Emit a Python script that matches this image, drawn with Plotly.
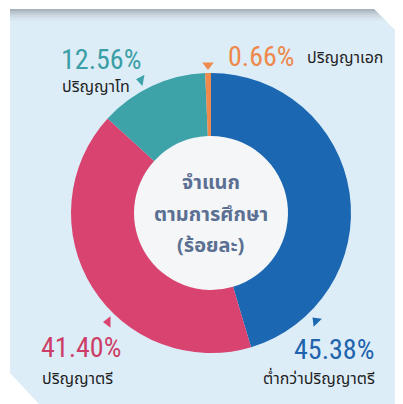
import plotly.graph_objects as go

# ---- data ----
categories = ["ต่ำกว่าปริญญาตรี", "ปริญญาตรี", "ปริญญาโท", "ปริญญาเอก"]
values = [45.38, 41.40, 12.56, 0.66]
colors = ["#1b67b2", "#d8446f", "#3ea2a9", "#f08a4c"]
label_colors = ["#1f63ad", "#cd3e67", "#3a9ea6", "#ee884d"]
center_title = ["จำแนก", "ตามการศึกษา", "(ร้อยละ)"]

# page body has an 8px margin; figure fills the rest of the 403x404 window
OFF = 8
W, H = 403 - OFF, 404 - OFF
def px(x):
    return (x - OFF) / W
def py(y):
    return 1 - (y - OFF) / H

fig = go.Figure()
fig.add_trace(go.Pie(
    labels=categories, values=values, sort=False, direction="clockwise",
    rotation=0, hole=0.55, marker=dict(colors=colors, line=dict(width=0)),
    textinfo="none", hoverinfo="label+percent", showlegend=False,
    domain=dict(x=[px(71), px(351)], y=[py(353), py(73)]),
))

# small pointer triangles (decorations, positioned in window pixels)
tri_x = [316, 108, 141, 208]
tri_y = [321, 322, 80, 65]
tri_sym = ["triangle-up", "triangle-left", "triangle-left", "triangle-down"]
tri_ang = [-45, 0, 10, 0]
fig.add_trace(go.Scatter(
    x=tri_x, y=tri_y, mode="markers", hoverinfo="skip", showlegend=False,
    marker=dict(symbol=tri_sym, angle=tri_ang, size=10, color=colors, line=dict(width=0)),
))
fig.update_xaxes(range=[OFF, 403], visible=False, fixedrange=True)
fig.update_yaxes(range=[404, OFF], visible=False, fixedrange=True)

shapes = []
# card
card = f"M {px(10)},{py(9)} L {px(374)},{py(9)} L {px(403)},{py(38)} L {px(403)},{py(404)} L {px(39)},{py(404)} L {px(10)},{py(373)} Z"
shapes.append(dict(type="path", path=card, xref="paper", yref="paper",
                   fillcolor="#dcedf8", line=dict(width=0), layer="below"))
# top shadow bands
shadow_cols = ["#a9b3bb", "#b7c2cb", "#c4d0d9", "#cdd9e3", "#d4e2ec", "#d9e8f2"]
for i, c in enumerate(shadow_cols):
    y0 = 9 + i * 2
    shapes.append(dict(type="path",
                       path=f"M {px(10)},{py(y0)} L {px(374 + i*2)},{py(y0)} L {px(376 + i*2)},{py(y0+2)} L {px(10)},{py(y0+2)} Z",
                       xref="paper", yref="paper", fillcolor=c, line=dict(width=0), layer="below"))
# inner white circle
shapes.append(dict(type="circle", xref="paper", yref="paper",
                   x0=px(134), x1=px(289), y0=py(291), y1=py(136),
                   fillcolor="#f4f6f7", line=dict(width=0), layer="below"))

num_font = "Liberation Sans Narrow, Roboto Condensed, DejaVu Sans Condensed, sans-serif"
thai_font = "Noto Sans Thai, Loma, Garuda, Tlwg Typist, sans-serif"

ann = []
# (x, y, xanchor) for percentage and name
pos = [
    ((376, 349, "right"), (377, 379, "right")),
    ((39, 347, "left"), (40, 379, "left")),
    ((59, 60, "left"), (60, 87, "left")),
    ((226, 56, "left"), (305, 58, "left")),
]
for i, (cat, v) in enumerate(zip(categories, values)):
    (x1, y1, a1), (x2, y2, a2) = pos[i]
    ann.append(dict(text=f"{v:.2f}%", x=px(x1), y=py(y1), xref="paper", yref="paper",
                    xanchor=a1, yanchor="middle", showarrow=False,
                    font=dict(family=num_font, size=28, color=label_colors[i])))
    ann.append(dict(text=cat, x=px(x2), y=py(y2), xref="paper", yref="paper",
                    xanchor=a2, yanchor="middle", showarrow=False,
                    font=dict(family=thai_font, size=16, color="#1e1e1e")))

for t, y in zip(center_title, [183, 215, 246]):
    ann.append(dict(text=f"<b>{t}</b>", x=px(211), y=py(y), xref="paper", yref="paper",
                    showarrow=False, yanchor="middle",
                    font=dict(family=thai_font, size=20, color="#5b6f92")))

fig.update_layout(width=W, height=H, margin=dict(l=0, r=0, t=0, b=0),
                  paper_bgcolor="white", plot_bgcolor="rgba(0,0,0,0)",
                  shapes=shapes, annotations=ann)
fig.write_html("out.html")
